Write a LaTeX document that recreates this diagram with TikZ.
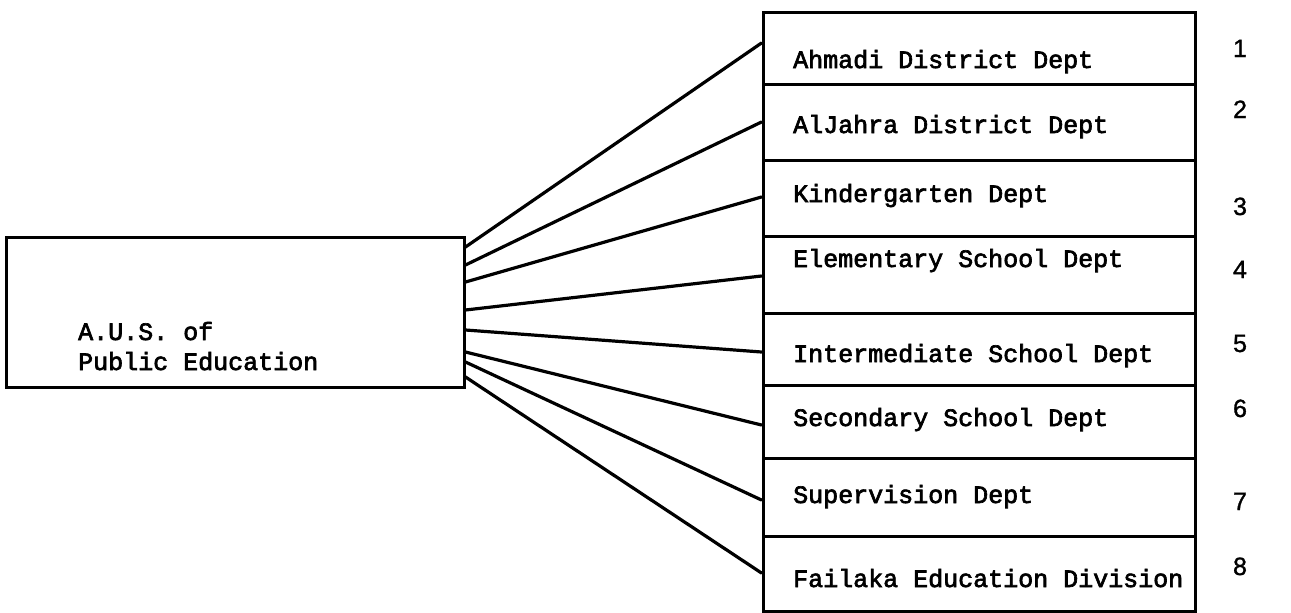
\documentclass[tikz,border=0pt]{standalone}
\usepackage{fontspec}
\newfontfamily\typefont[FakeBold=2.6]{Liberation Mono}
\newfontfamily\numfont[FakeBold=1.2]{Liberation Sans}
\begin{document}
\begin{tikzpicture}[x=1pt,y=-1pt,
  box/.style={draw, line width=3pt, inner sep=0pt, minimum width=432pt},
  headbox/.style={draw, line width=3pt, inner sep=0pt, minimum width=458pt, minimum height=150pt},
  label/.style={anchor=base west, inner sep=0pt, font=\typefont\fontsize{25}{30}\selectfont},
  num/.style={anchor=base, inner sep=0pt, font=\numfont\fontsize{25}{29}\selectfont},
  link/.style={line width=3.2pt, line cap=round}]
\useasboundingbox (0,0) rectangle (1291,613);

% head office
\node[headbox] (aus) at (235,312) {};
\node[label, align=left] (auslabel) at (78,370) {A.U.S. of\\[0pt]Public Education};

% department column
\node[box, minimum height=72pt] (r1) at (979,48) {};
\node[box, minimum height=76pt] (r2) at (979,122) {};
\node[box, minimum height=76pt] (r3) at (979,198) {};
\node[box, minimum height=77pt] (r4) at (979,274.5) {};
\node[box, minimum height=72pt] (r5) at (979,349) {};
\node[box, minimum height=73pt] (r6) at (979,421.5) {};
\node[box, minimum height=78pt] (r7) at (979,497) {};
\node[box, minimum height=75pt] (r8) at (979,573.5) {};

\node[label] (l1) at (793,68) {Ahmadi District Dept};
\node[label] (l2) at (793,133) {AlJahra District Dept};
\node[label] (l3) at (793,202) {Kindergarten Dept};
\node[label] (l4) at (793,267) {Elementary School Dept};
\node[label] (l5) at (793,362) {Intermediate School Dept};
\node[label] (l6) at (793,426) {Secondary School Dept};
\node[label] (l7) at (793,503) {Supervision Dept};
\node[label] (l8) at (793,587) {Failaka Education Division};

\node[num] (n1) at (1240,57) {1};
\node[num] (n2) at (1240,118) {2};
\node[num] (n3) at (1240,215) {3};
\node[num] (n4) at (1240,278) {4};
\node[num] (n5) at (1240,352) {5};
\node[num] (n6) at (1240,417) {6};
\node[num] (n7) at (1240,510) {7};
\node[num] (n8) at (1240,575) {8};

% connectors from the head office to each department
\draw[link] (aus.east |- 0,247) -- (r1.west |- 0,43);
\draw[link] (aus.east |- 0,265) -- (r2.west |- 0,122);
\draw[link] (aus.east |- 0,282) -- (r3.west |- 0,197);
\draw[link] (aus.east |- 0,310) -- (r4.west |- 0,276);
\draw[link] (aus.east |- 0,330) -- (r5.west |- 0,352);
\draw[link] (aus.east |- 0,352) -- (r6.west |- 0,425);
\draw[link] (aus.east |- 0,362) -- (r7.west |- 0,500);
\draw[link] (aus.east |- 0,377) -- (r8.west |- 0,573);
\end{tikzpicture}
\end{document}
